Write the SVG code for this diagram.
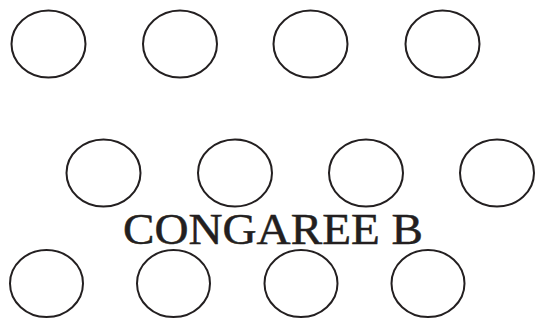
<svg xmlns="http://www.w3.org/2000/svg" width="540" height="329" viewBox="0 0 540 329">
<style>
.t{fill:#fff;stroke:#231f20;stroke-width:2}
.lbl{font-family:"Liberation Serif","DejaVu Serif",serif;font-size:45px;fill:#231f20;stroke:#231f20;stroke-width:0.5}
</style>
<rect width="540" height="329" fill="#fff"/>
<g id="connectors"/>
<g id="r1">
<g id="t1"><ellipse class="t" cx="48.5" cy="44" rx="37" ry="33.5"/></g>
<g id="t2"><ellipse class="t" cx="180" cy="44" rx="37" ry="33.5"/></g>
<g id="t3"><ellipse class="t" cx="310.5" cy="44" rx="37" ry="33.5"/></g>
<g id="t4"><ellipse class="t" cx="442.5" cy="44" rx="37" ry="33.5"/></g>
</g>
<g id="r2">
<g id="t5"><ellipse class="t" cx="103.5" cy="173" rx="37" ry="33.5"/></g>
<g id="t6"><ellipse class="t" cx="235" cy="173" rx="37" ry="33.5"/></g>
<g id="t7"><ellipse class="t" cx="366" cy="173" rx="37" ry="33.5"/></g>
<g id="t8"><ellipse class="t" cx="497" cy="173" rx="37" ry="33.5"/></g>
</g>
<g id="r3">
<g id="t9"><ellipse class="t" cx="46.5" cy="283.5" rx="36.5" ry="33.5"/></g>
<g id="t10"><ellipse class="t" cx="173.5" cy="283.5" rx="36.5" ry="33.5"/></g>
<g id="t11"><ellipse class="t" cx="301" cy="283.5" rx="36.5" ry="33.5"/></g>
<g id="t12"><ellipse class="t" cx="428" cy="283.5" rx="36.5" ry="33.5"/></g>
</g>
<g id="label"><text class="lbl" x="123" y="244" textLength="300" lengthAdjust="spacingAndGlyphs">CONGAREE B</text></g>
</svg>
